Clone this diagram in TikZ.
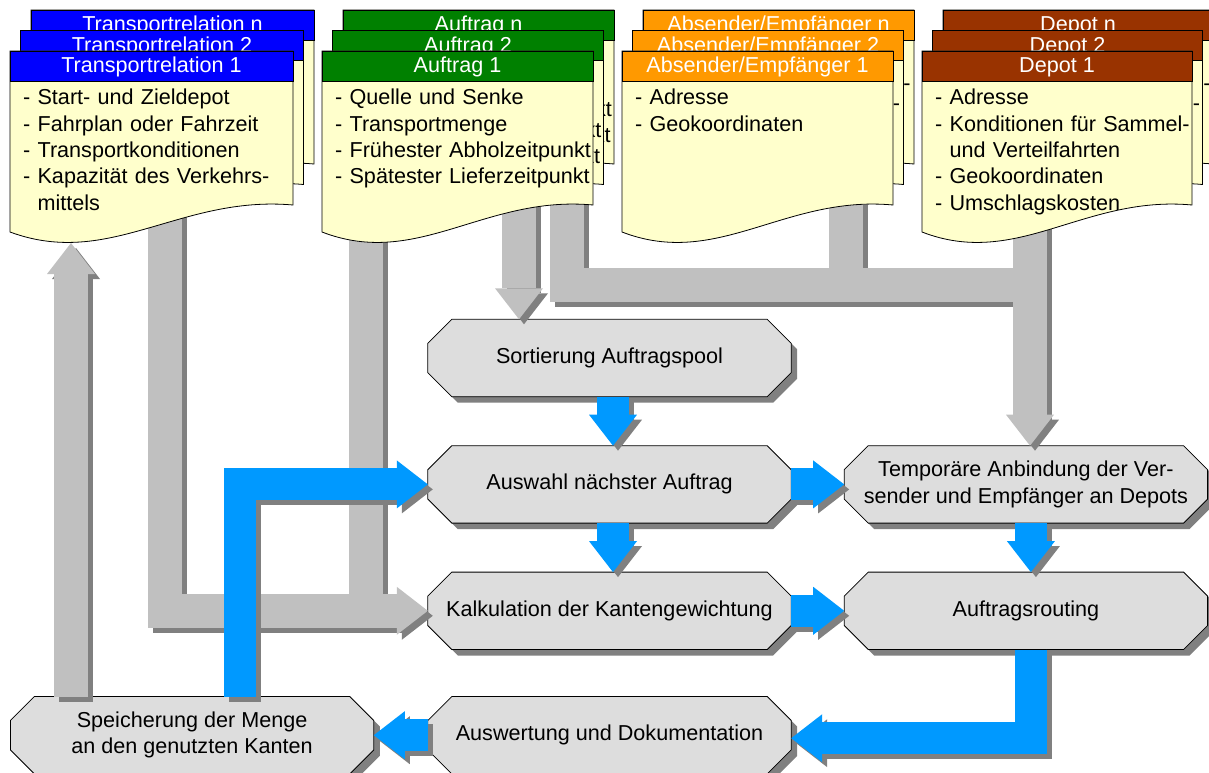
\documentclass[tikz,border=0pt]{standalone}
\usepackage{fontspec}
\setmainfont{Liberation Sans}
\usetikzlibrary{arrows.meta,positioning,calc,backgrounds}

\definecolor{sheetyellow}{HTML}{FFFFCC}
\definecolor{titleblue}{HTML}{0000FF}
\definecolor{titlegreen}{HTML}{008000}
\definecolor{titleorange}{HTML}{FF9900}
\definecolor{titlebrown}{HTML}{993300}
\definecolor{stepgray}{HTML}{DDDDDD}
\definecolor{flowgray}{HTML}{C0C0C0}
\definecolor{flowblue}{HTML}{0099FF}
\definecolor{shadegray}{HTML}{808080}

\tikzset{
  >={Triangle[width=48pt,length=31pt,line width=0pt]},
  sheet/.style={draw,line width=0.8pt,fill=sheetyellow},
  sheettitle/.style={text=white,anchor=base,inner sep=0pt},
  sheettext/.style={anchor=base west,inner sep=0pt,text width=300pt,align=left},
  stepbox/.style={rectangle,minimum width=363pt,minimum height=77pt,inner sep=0pt,align=center},
  stepframe/.style={draw,line width=0.8pt,fill=stepgray},
  stepshade/.style={fill=shadegray,transform canvas={xshift=6pt,yshift=-6pt}},
  flowline/.style={line width=#1,line join=miter},
  gflow/.style={flowline=34pt,draw=flowgray},
  bflow/.style={flowline=32pt,draw=flowblue},
}

% contents of the data sheets
\newcommand{\relationlist}{- Start- und Zieldepot\\- Fahrplan oder Fahrzeit\\- Transportkonditionen\\- Kapazität des Verkehrs-\\\phantom{- }mittels}
\newcommand{\orderlist}{- Quelle und Senke\\- Transportmenge\\- Frühester Abholzeitpunkt\\- Spätester Lieferzeitpunkt}
\newcommand{\partnerlist}{- Adresse\\- Geokoordinaten}
\newcommand{\depotlist}{- Adresse\\- Konditionen für Sammel-\\\phantom{- }und Verteilfahrten\\- Geokoordinaten\\- Umschlagskosten}

% one sheet: position, width, colour, title, body, name
\newcommand{\docsheet}[6]{%
  \begin{scope}[shift={(#1)}]
    \filldraw[sheet] (0,0) -- (#2,0) -- (#2,154)
      .. controls ({0.6*#2},144) and ({0.353*#2},218) .. (0,181) -- cycle;
    \filldraw[sheet,fill=#3] (0,0) rectangle (#2,30);
    \node[sheettitle] (#6-title) at ({#2/2},22) {#4};
    \node[sheettext] (#6-text) at (13,54) {#5};
  \end{scope}}

% stack of three sheets: position, width, colour, title, front body, back body, name
\newcommand{\docstack}[7]{%
  \begin{scope}[shift={(#1)}]
    \docsheet{21,-41}{#2}{#3}{#4 n}{#6}{#7n}
    \docsheet{10.5,-20.5}{#2}{#3}{#4 2}{#6}{#72}
    \docsheet{0,0}{#2}{#3}{#4 1}{#5}{#71}
  \end{scope}}

% outline of a process step with cut corners
\newcommand{\chamfer}[1]{($(#1.north west)+(24,0)$) -- ($(#1.north east)+(-24,0)$)
  -- ($(#1.north east)+(0,24)$) -- ($(#1.south east)+(0,-24)$)
  -- ($(#1.south east)+(-24,0)$) -- ($(#1.south west)+(24,0)$)
  -- ($(#1.south west)+(0,-24)$) -- ($(#1.north west)+(0,24)$) -- cycle}

\newcommand{\grayflows}{%
  \draw[gflow] (orderFootA) -- (orderFootA |- kalkulation.west);
  \draw[gflow] (partnerFoot) -- (partnerFoot |- bus);
  \draw[gflow,->] (relFoot) |- (kalkulation.west);
  \draw[gflow] (orderFootC) |- (bus);
  \draw[gflow,->] (depotFoot) -- (depotFoot |- anbindung.north);
  \draw[gflow,->] (orderFootB) -- (orderFootB |- sortierung.north);
  \draw[gflow,->] (relHead |- speicherung.north) -- (relHead);
}

\newcommand{\blueflows}{%
  \draw[bflow,->] ([xshift=3.5pt]sortierung.south) -- ([xshift=3.5pt]auswahl.north);
  \draw[bflow,->] ([xshift=3.5pt]auswahl.south) -- ([xshift=3.5pt]kalkulation.north);
  \draw[bflow,->] (auswahl.east) -- (anbindung.west);
  \draw[bflow,->] (kalkulation.east) -- (routing.west);
  \draw[bflow,->] ([xshift=5pt]anbindung.south) -- ([xshift=5pt]routing.north);
  \draw[bflow,->] ([xshift=5pt]routing.south) |- ([yshift=-3pt]auswertung.east);
  \draw[bflow,->] (auswertung.west) -- (speicherung.east);
  \draw[bflow,->] ([xshift=48pt]speicherung.north) |- (auswahl.west);
}

\begin{document}
\begin{tikzpicture}[x=1pt,y=-1pt,font=\fontsize{21.6}{26.3}\selectfont]
  \useasboundingbox (0,0) rectangle (1209,773);

  % process steps
  \node[stepbox] (sortierung) at (609.5,358) {Sortierung Auftragspool};
  \node[stepbox,below=49pt of sortierung] (auswahl) {Auswahl nächster Auftrag};
  \node[stepbox,below=49pt of auswahl] (kalkulation) {Kalkulation der Kantengewichtung};
  \node[stepbox,below=47pt of kalkulation] (auswertung) {Auswertung und Dokumentation};
  \node[stepbox,right=53pt of auswahl] (anbindung) {Temporäre Anbindung der Ver-\\sender und Empfänger an Depots};
  \node[stepbox,below=49pt of anbindung] (routing) {Auftragsrouting};
  \node[stepbox,left=54pt of auswertung] (speicherung) {Speicherung der Menge\\an den genutzten Kanten};

  \begin{pgfonlayer}{background}
    \foreach \s in {sortierung,auswahl,kalkulation,auswertung,anbindung,routing,speicherung} {
      \fill[stepshade] \chamfer{\s};
      \filldraw[stepframe] \chamfer{\s};
    }
  \end{pgfonlayer}

  % feet of the data sheets
  \coordinate (relFoot) at (165,200);
  \coordinate (relHead) at (71,243);
  \coordinate (orderFootA) at (366,200);
  \coordinate (orderFootB) at (519,200);
  \coordinate (orderFootC) at (567,200);
  \coordinate (partnerFoot) at (846,200);
  \coordinate (depotFoot) at (1030,200);
  \coordinate (bus) at (1030,285);

  % gray data flows
  \begin{scope}[transform canvas={xshift=5pt,yshift=-5pt},gflow/.style={flowline=34pt,draw=shadegray}]
    \grayflows
  \end{scope}
  \grayflows

  % blue control flow
  \begin{scope}[transform canvas={xshift=5pt,yshift=-5pt},bflow/.style={flowline=32pt,draw=shadegray}]
    \blueflows
  \end{scope}
  \blueflows

  % data sheets
  \docstack{10,51}{283}{titleblue}{Transportrelation}{\relationlist}{}{rel}
  \docstack{322,51}{271}{titlegreen}{Auftrag}{\orderlist}{\orderlist}{order}
  \docstack{622,51}{271}{titleorange}{Absender/Empfänger}{\partnerlist}{\depotlist}{partner}
  \docstack{922,51}{270}{titlebrown}{Depot}{\depotlist}{\depotlist}{depot}
\end{tikzpicture}
\end{document}
